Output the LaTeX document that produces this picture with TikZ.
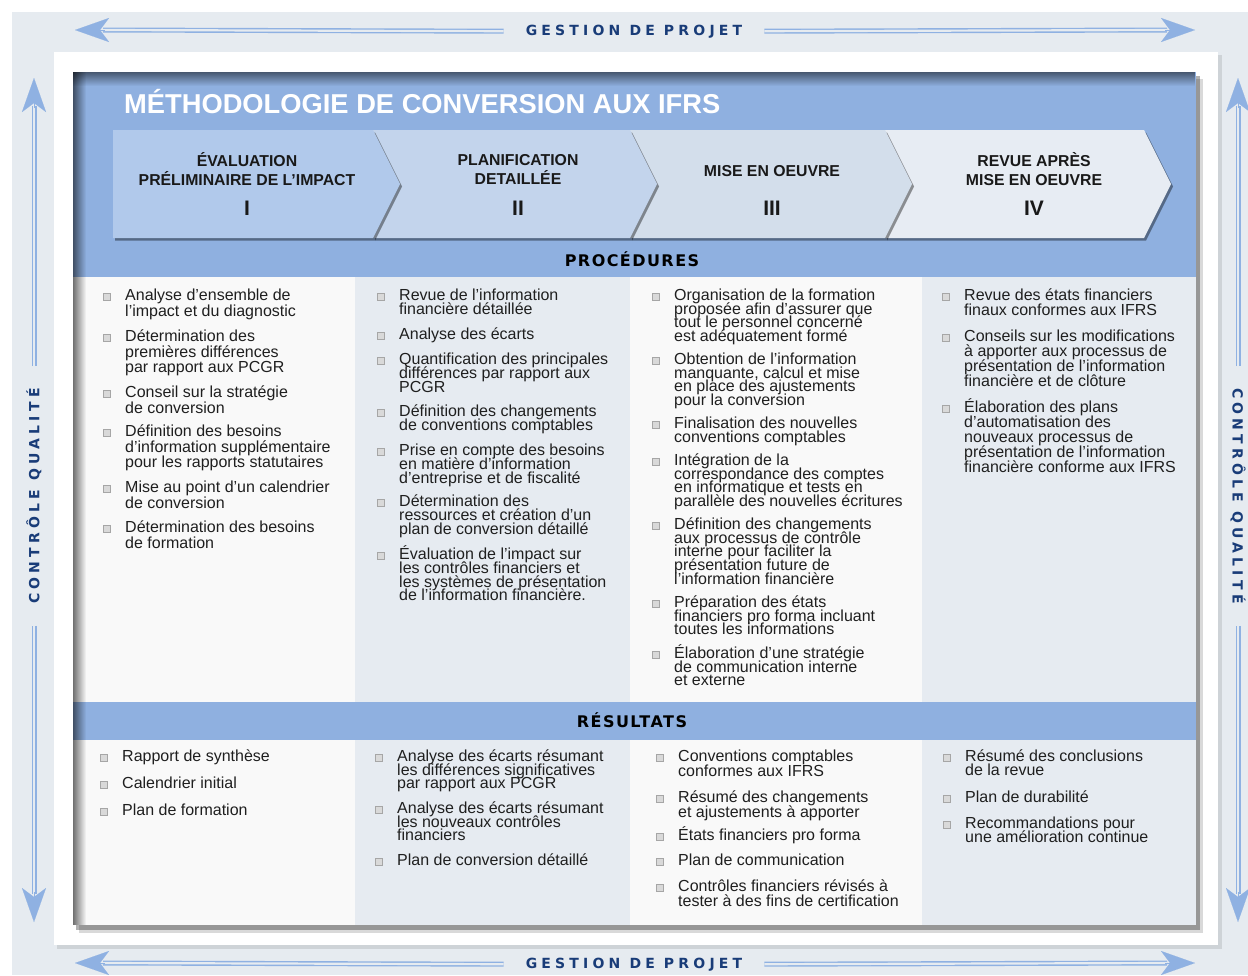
\documentclass[tikz,border=0pt]{standalone}
\usepackage{fontspec}
\setmainfont{Liberation Sans}
\newfontfamily\spacedfont[LetterSpace=30]{DejaVu Sans Bold}
\newfontfamily\bandfont[LetterSpace=9]{DejaVu Sans Bold}
\newfontfamily\phasefont{Liberation Sans Bold}
\usetikzlibrary{arrows.meta, shadows, fadings}

\definecolor{frame}{HTML}{E6EBF0}
\definecolor{header}{HTML}{8FB0E0}
\definecolor{chevA}{HTML}{B1C9EB}
\definecolor{chevB}{HTML}{C3D4EC}
\definecolor{chevC}{HTML}{D3DEEB}
\definecolor{chevD}{HTML}{E7ECF3}
\definecolor{colLight}{HTML}{F9F9F9}
\definecolor{colTint}{HTML}{E6EBF1}
\definecolor{navy}{HTML}{193C78}
\definecolor{arrowblue}{HTML}{8FB1E2}
\definecolor{ink}{HTML}{1F1F1F}

\newcommand\itemfont[1]{\fontsize{16}{#1}\selectfont\lineskiplimit=-20pt\relax}

\tikzset{
  every node/.style={inner sep=0pt},
  proc/.style={anchor=north west, align=left, text=ink, font={\itemfont{#1}}},
  proc/.default=14,
  puce/.style={minimum width=6.5pt, minimum height=6.5pt, fill=gray!30, draw=gray!70, line width=.7pt},
  chevron/.style={drop shadow={shadow xshift=2pt, shadow yshift=-2.5pt, opacity=.4, fill=black}},
  phasetext/.style={align=center, text=black!90, font=\phasefont\fontsize{15.8}{19}\selectfont},
  numeral/.style={text=black!90, font=\phasefont\fontsize{21}{21}\selectfont},
  band/.style={anchor=base, text=black, font=\bandfont\fontsize{16}{16}\selectfont},
  axis label/.style={text=navy, font=\spacedfont\fontsize{14}{14}\selectfont},
  rail/.style={arrowblue, line width=1.4pt, double=frame, double distance=2.2pt},
  dart/.style={arrowblue, line width=.1pt, -{Stealth[length=34pt, width=24pt, inset=9pt]}},
}

% one column of bulleted items: prefix, text x, line skip, list of y/text
\newcommand\itemcolumn[4]{%
  \foreach \yy/\txt [count=\i] in {#4} {
    \node[proc=#3] (#1-\i) at (#2,\yy-9.5) {\rule{0pt}{15pt}\txt};
    \node[puce] (#1-\i-b) at (#2-18,\yy+2) {};
  }}

\begin{document}
\begin{tikzpicture}[x=1pt, y=-1pt]
\useasboundingbox (0,0) rectangle (1248,975);
\fill[white] (0,0) rectangle (1248,975);

% outer frame and white panel
\fill[frame] (12,12) rectangle (1248,975);
\fill[black, opacity=.10] (57,55) rectangle (1222,949);
\fill[white] (54,52) rectangle (1218,945);

% main box with its shadow
\fill[black, opacity=.15] (79,79) rectangle (1203,933);
\fill[black, opacity=.30] (76,76) rectangle (1200,930);
\fill[header] (73,72) rectangle (1196,277);
\fill[colLight] (73,277) rectangle (355,702);
\fill[colTint] (355,277) rectangle (630,702);
\fill[colLight] (630,277) rectangle (922,702);
\fill[colTint] (922,277) rectangle (1196,702);
\fill[header] (73,702) rectangle (1196,740);
\fill[colLight] (73,740) rectangle (355,925);
\fill[colTint] (355,740) rectangle (630,925);
\fill[colLight] (630,740) rectangle (922,925);
\fill[colTint] (922,740) rectangle (1196,925);
\fill[black, opacity=.55, path fading=east] (73,72) rectangle (86,925);
\fill[black, opacity=.50, path fading=south] (73,72) rectangle (1196,86);

\node[anchor=base west, text=white, font=\fontsize{27.3}{27}\selectfont\bfseries] (title)
  at (124,113) {MÉTHODOLOGIE DE CONVERSION AUX IFRS};

% phases, last one first so each arrow casts onto the next
\fill[chevD, chevron] (885,130) -- (1144,130) -- (1171,184) -- (1144,238) -- (885,238) -- cycle;
\fill[chevC, chevron] (630,130) -- (885,130) -- (912,184) -- (885,238) -- (630,238) -- cycle;
\fill[chevB, chevron] (373,130) -- (630,130) -- (657,184) -- (630,238) -- (373,238) -- cycle;
\fill[chevA, chevron] (113,130) -- (373,130) -- (400,184) -- (373,238) -- (113,238) -- cycle;

\node[phasetext] (ph1) at (247,169.5) {ÉVALUATION\\PRÉLIMINAIRE DE L’IMPACT};
\node[phasetext] (ph2) at (518,169.5) {PLANIFICATION\\DETAILLÉE};
\node[phasetext] (ph3) at (772,171) {MISE EN OEUVRE};
\node[phasetext] (ph4) at (1034,169.5) {REVUE APRÈS\\MISE EN OEUVRE};
\node[numeral] (ph1n) at (247,208) {I};
\node[numeral] (ph2n) at (518,208) {II};
\node[numeral] (ph3n) at (772,208) {III};
\node[numeral] (ph4n) at (1034,208) {IV};

\node[band] (procLbl) at (632,266) {PROCÉDURES};
\node[band] (resLbl) at (632,727) {RÉSULTATS};

% procedures
\itemcolumn{pI}{125}{15.5}{
  295/{Analyse d’ensemble de\\l’impact et du diagnostic},
  336/{Détermination des\\premières différences\\par rapport aux PCGR},
  392/{Conseil sur la stratégie\\de conversion},
  431/{Définition des besoins\\d’information supplémentaire\\pour les rapports statutaires},
  487/{Mise au point d’un calendrier\\de conversion},
  527/{Détermination des besoins\\de formation}}
\itemcolumn{pII}{399}{13.7}{
  295/{Revue de l’information\\financière détaillée},
  334/{Analyse des écarts},
  359/{Quantification des principales\\différences par rapport aux\\PCGR},
  411/{Définition des changements\\de conventions comptables},
  450/{Prise en compte des besoins\\en matière d’information\\d’entreprise et de fiscalité},
  501/{Détermination des\\ressources et création d’un\\plan de conversion détaillé},
  554/{Évaluation de l’impact sur\\les contrôles financiers et\\les systèmes de présentation\\de l’information financière.}}
\itemcolumn{pIII}{674}{13.6}{
  295/{Organisation de la formation\\proposée afin d’assurer que\\tout le personnel concerné\\est adéquatement formé},
  359/{Obtention de l’information\\manquante, calcul et mise\\en place des ajustements\\pour la conversion},
  423/{Finalisation des nouvelles\\conventions comptables},
  460/{Intégration de la\\correspondance des comptes\\en informatique et tests en\\parallèle des nouvelles écritures},
  524/{Définition des changements\\aux processus de contrôle\\interne pour faciliter la\\présentation future de\\l’information financière},
  602/{Préparation des états\\financiers pro forma incluant\\toutes les informations},
  653/{Élaboration d’une stratégie\\de communication interne\\et externe}}
\itemcolumn{pIV}{964}{15}{
  295/{Revue des états financiers\\finaux conformes aux IFRS},
  336/{Conseils sur les modifications\\à apporter aux processus de\\présentation de l’information\\financière et de clôture},
  407/{Élaboration des plans\\d’automatisation des\\nouveaux processus de\\présentation de l’information\\financière conforme aux IFRS}}

% results
\itemcolumn{rI}{122}{14}{
  756/{Rapport de synthèse},
  783/{Calendrier initial},
  810/{Plan de formation}}
\itemcolumn{rII}{397}{13.5}{
  756/{Analyse des écarts résumant\\les différences significatives\\par rapport aux PCGR},
  808/{Analyse des écarts résumant\\les nouveaux contrôles\\financiers},
  860/{Plan de conversion détaillé}}
\itemcolumn{rIII}{678}{14.5}{
  756/{Conventions comptables\\conformes aux IFRS},
  797/{Résumé des changements\\et ajustements à apporter},
  835/{États financiers pro forma},
  860/{Plan de communication},
  886/{Contrôles financiers révisés à\\tester à des fins de certification}}
\itemcolumn{rIV}{965}{14}{
  756/{Résumé des conclusions\\de la revue},
  797/{Plan de durabilité},
  823/{Recommandations pour\\une amélioration continue}}

% axes round the frame
\node[axis label, anchor=base] (gpTop) at (634,35) {GESTION DE PROJET};
\node[axis label, anchor=base] (gpBot) at (634,968) {GESTION DE PROJET};
\node[axis label, rotate=90] (cqLeft) at (34,496) {CONTRÔLE QUALITÉ};
\node[axis label, rotate=-90] (cqRight) at (1238,496) {CONTRÔLE QUALITÉ};

\coordinate (nw) at (75,30);   \coordinate (ne) at (1195,30);
\coordinate (sw) at (75,963);  \coordinate (se) at (1195,963);
\coordinate (wn) at (34,78);   \coordinate (ws) at (34,922);
\coordinate (en) at (1238,78); \coordinate (es) at (1238,922);

\draw[rail] ([xshift=-22pt]gpTop.west) -- ([xshift=28pt]nw);
\draw[dart] ([xshift=30pt]nw) -- (nw);
\draw[rail] ([xshift=22pt]gpTop.east) -- ([xshift=-28pt]ne);
\draw[dart] ([xshift=-30pt]ne) -- (ne);
\draw[rail] ([xshift=-22pt]gpBot.west) -- ([xshift=28pt]sw);
\draw[dart] ([xshift=30pt]sw) -- (sw);
\draw[rail] ([xshift=22pt]gpBot.east) -- ([xshift=-28pt]se);
\draw[dart] ([xshift=-30pt]se) -- (se);

\draw[rail] ([yshift=22pt]cqLeft.east) -- ([yshift=-28pt]wn);
\draw[dart] ([yshift=-30pt]wn) -- (wn);
\draw[rail] ([yshift=-22pt]cqLeft.west) -- ([yshift=28pt]ws);
\draw[dart] ([yshift=30pt]ws) -- (ws);
\draw[rail] ([yshift=22pt]cqRight.west) -- ([yshift=-28pt]en);
\draw[dart] ([yshift=-30pt]en) -- (en);
\draw[rail] ([yshift=-22pt]cqRight.east) -- ([yshift=28pt]es);
\draw[dart] ([yshift=30pt]es) -- (es);
\end{tikzpicture}
\end{document}
